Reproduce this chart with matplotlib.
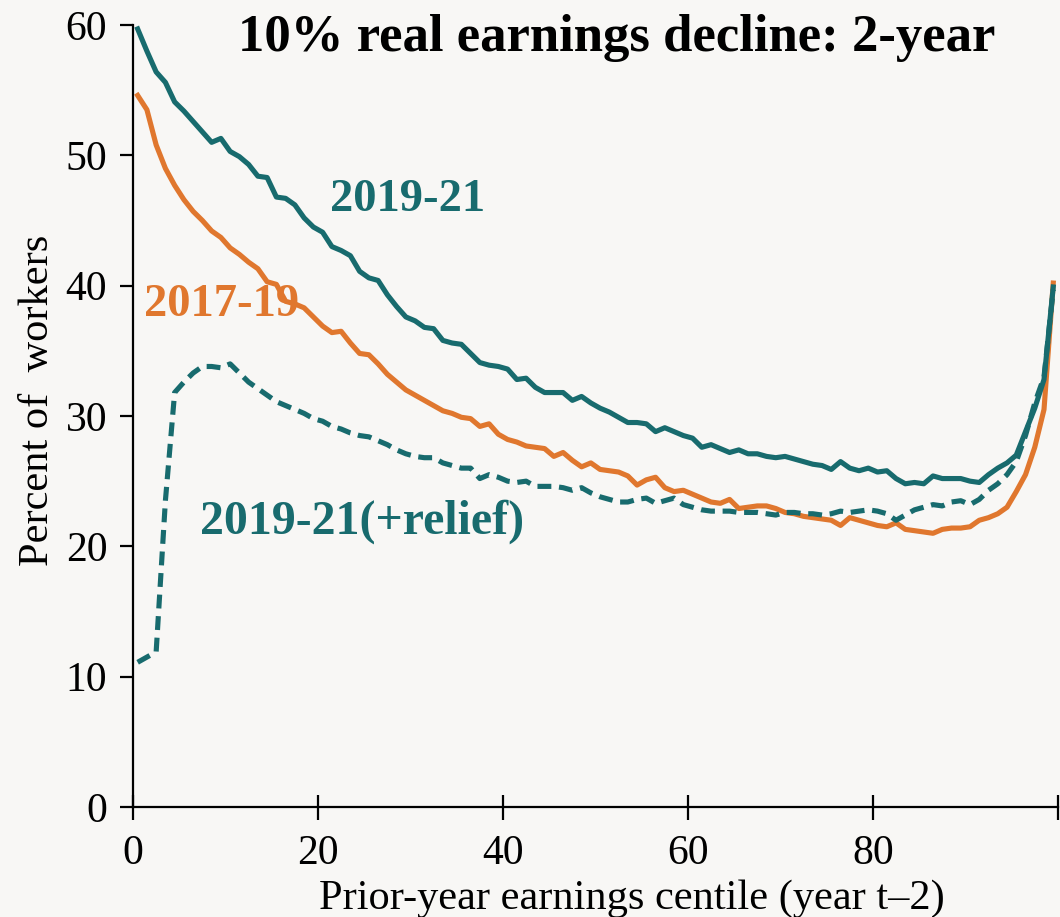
import numpy as np
import matplotlib
matplotlib.use("Agg")
import matplotlib.pyplot as plt

# centile positions (plotted at bin middles)
centiles = np.arange(100) + 0.5

# 2019-21, solid teal
share_2019_21 = [
    59.7, 58.0, 56.4, 55.6, 54.1, 53.4, 52.6, 51.8, 51.0, 51.3,
    50.3, 49.9, 49.3, 48.4, 48.3, 46.8, 46.7, 46.2, 45.2, 44.5,
    44.1, 43.0, 42.7, 42.3, 41.1, 40.6, 40.4, 39.3, 38.4, 37.6,
    37.3, 36.8, 36.7, 35.8, 35.6, 35.5, 34.8, 34.1, 33.9, 33.8,
    33.6, 32.8, 32.9, 32.2, 31.8, 31.8, 31.8, 31.2, 31.5, 31.0,
    30.6, 30.3, 29.9, 29.5, 29.5, 29.4, 28.8, 29.1, 28.8, 28.5,
    28.3, 27.6, 27.8, 27.5, 27.2, 27.4, 27.1, 27.1, 26.9, 26.8,
    26.9, 26.7, 26.5, 26.3, 26.2, 25.9, 26.5, 26.0, 25.8, 26.0,
    25.7, 25.8, 25.2, 24.8, 24.9, 24.8, 25.4, 25.2, 25.2, 25.2,
    25.0, 24.9, 25.5, 26.0, 26.4, 27.0, 28.8, 30.6, 32.8, 39.9,
]

# 2017-19, solid orange
share_2017_19 = [
    54.6, 53.5, 50.8, 49.0, 47.7, 46.6, 45.7, 45.0, 44.2, 43.7,
    42.9, 42.4, 41.8, 41.3, 40.3, 40.1, 38.8, 38.6, 38.3, 37.6,
    36.9, 36.4, 36.5, 35.6, 34.8, 34.7, 34.0, 33.2, 32.6, 32.0,
    31.6, 31.2, 30.8, 30.4, 30.2, 29.9, 29.8, 29.2, 29.4, 28.6,
    28.2, 28.0, 27.7, 27.6, 27.5, 26.9, 27.2, 26.6, 26.1, 26.4,
    25.9, 25.8, 25.7, 25.4, 24.7, 25.1, 25.3, 24.5, 24.2, 24.3,
    24.0, 23.7, 23.4, 23.3, 23.6, 22.9, 23.0, 23.1, 23.1, 22.9,
    22.6, 22.5, 22.3, 22.2, 22.1, 22.0, 21.6, 22.2, 22.0, 21.8,
    21.6, 21.5, 21.8, 21.3, 21.2, 21.1, 21.0, 21.3, 21.4, 21.4,
    21.5, 22.0, 22.2, 22.5, 23.0, 24.2, 25.5, 27.6, 30.5, 40.2,
]

# 2019-21 including relief payments, dashed teal
share_2019_21_relief = [
    11.1, 11.5, 11.9, 23.5, 31.8, 32.6, 33.3, 33.8, 33.8, 33.7,
    34.0, 33.3, 32.6, 32.1, 31.6, 31.1, 30.8, 30.5, 30.2, 29.8,
    29.6, 29.2, 29.0, 28.7, 28.5, 28.4, 28.1, 27.8, 27.4, 27.1,
    26.9, 26.8, 26.8, 26.4, 26.2, 26.0, 26.0, 25.2, 25.5, 25.3,
    25.0, 24.9, 25.0, 24.6, 24.6, 24.6, 24.5, 24.3, 24.5, 24.1,
    23.8, 23.6, 23.4, 23.4, 23.6, 23.7, 23.3, 23.5, 23.7, 23.2,
    23.0, 22.8, 22.7, 22.7, 22.7, 22.6, 22.6, 22.6, 22.5, 22.4,
    22.6, 22.6, 22.5, 22.5, 22.4, 22.5, 22.7, 22.6, 22.7, 22.8,
    22.7, 22.5, 22.0, 22.4, 22.8, 23.0, 23.2, 23.1, 23.4, 23.5,
    23.2, 23.6, 24.3, 24.8, 25.5, 26.5, 28.5, 31.0, 33.0, 39.7,
]

x_ticks = [0, 20, 40, 60, 80, 100]
x_tick_labels = ["0", "20", "40", "60", "80", ""]
y_ticks = [0, 10, 20, 30, 40, 50, 60]

teal = "#186b6e"
orange = "#e0772e"
bg = "#f8f7f5"

plt.rcParams["font.family"] = ["Liberation Serif", "DejaVu Serif"]

fig = plt.figure(figsize=(10.6, 9.17), dpi=100, facecolor=bg)
ax = fig.add_axes([0.1255, 0.12, 0.8725, 0.8527])
ax.set_facecolor(bg)

ax.plot(centiles, share_2017_19, color=orange, lw=3.7, solid_joinstyle="round", zorder=3)
ax.plot(centiles, share_2019_21_relief, color=teal, lw=3.7, linestyle=(0, (2.7, 1.5)), zorder=3)
ax.plot(centiles, share_2019_21, color=teal, lw=3.7, solid_joinstyle="round", zorder=4)

ax.set_xlim(0, 100)
ax.set_ylim(0, 60)
ax.set_xticks(x_ticks)
ax.set_xticklabels(x_tick_labels)
ax.set_yticks(y_ticks)

for s in ["top", "right"]:
    ax.spines[s].set_visible(False)
for s in ["left", "bottom"]:
    ax.spines[s].set_linewidth(1.6)
    ax.spines[s].set_color("black")

ax.tick_params(axis="x", direction="inout", length=18, width=1.6, labelsize=30, pad=11)
ax.tick_params(axis="y", direction="out", length=9.5, width=1.6, labelsize=30, pad=9)

ax.set_xlabel("Prior-year earnings centile (year t\u20132)", fontsize=30.5)
ax.xaxis.set_label_coords(0.539, -0.118)
ax.xaxis.label.set_va("center")
ax.set_ylabel("Percent of  workers", fontsize=30.5)
ax.yaxis.set_label_coords(-0.103, 0.52)
ax.yaxis.label.set_va("center")

ax.text(52.3, 59.0, "10% real earnings decline: 2-year", fontsize=38, fontweight="bold",
        ha="center", va="center", color="black")
ax.text(29.7, 46.6, "2019-21", fontsize=33.5, fontweight="bold", color=teal, ha="center", va="center")
ax.text(9.6, 38.5, "2017-19", fontsize=33.5, fontweight="bold", color=orange, ha="center", va="center")
ax.text(24.8, 21.9, "2019-21(+relief)", fontsize=34.5, fontweight="bold", color=teal,
        ha="center", va="center")

fig.savefig("out.png", dpi=100, facecolor=bg)
